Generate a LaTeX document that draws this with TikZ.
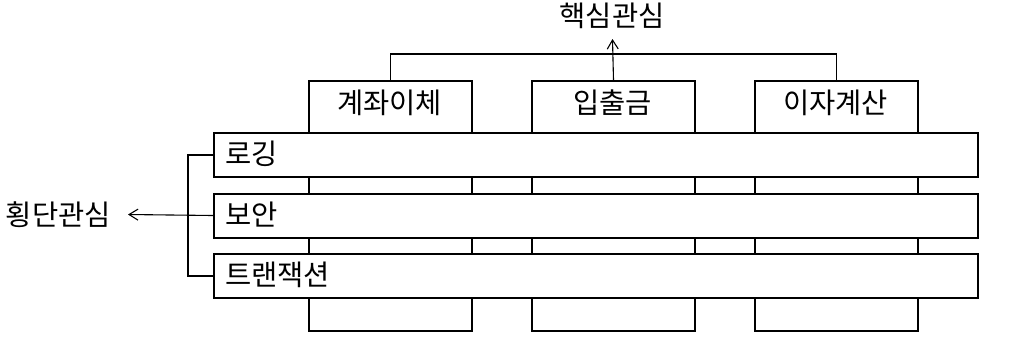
\documentclass[tikz,border=0pt]{standalone}
\usepackage{fontspec}
\newfontfamily\kr{Noto Sans CJK KR}
\usetikzlibrary{arrows.meta}
\begin{document}
\begin{tikzpicture}[x=1pt,y=-1pt,
  colbox/.style={draw,line width=2pt,fill=white,minimum width=163pt,minimum height=250pt,inner sep=0pt,anchor=north west},
  barbox/.style={draw,line width=2pt,fill=white,minimum width=764pt,minimum height=44pt,inner sep=0pt,anchor=north west},
  lbl/.style={font=\kr\fontsize{28.5}{32}\selectfont,inner sep=0pt},
  conn/.style={line width=1.1pt},
  tip/.style={-{Straight Barb[length=9pt,width=11pt,line width=1.1pt]}}]
\useasboundingbox (0,0) rectangle (1036,357);
% columns
\node[colbox] (c1) at (308,80) {};
\node[colbox] (c2) at (531,80) {};
\node[colbox] (c3) at (754,80) {};
% bars
\node[barbox] (b1) at (213,132) {};
\node[barbox] (b2) at (213,192.5) {};
\node[barbox] (b3) at (213,253) {};
% column labels
\node[lbl] (t1) at (389.5,103) {계좌이체};
\node[lbl] (t2) at (612.5,103) {입출금};
\node[lbl] (t3) at (835.5,103) {이자계산};
% bar labels
\node[lbl,anchor=west] (l1) at (225,154) {로깅};
\node[lbl,anchor=west] (l2) at (225,214.5) {보안};
\node[lbl,anchor=west] (l3) at (225,275) {트랜잭션};
% concern labels
\node[lbl] (core) at (612,16) {핵심관심};
\node[lbl,anchor=east] (cross) at (111,214.5) {횡단관심};
% top bracket
\coordinate (tb) at (612.5,54);
\coordinate (ta) at (612.5,39);
\draw[conn] (c1.north) |- (tb) -| (c3.north);
\draw[conn,tip] (c2.north) -- (ta);
% left bracket
\coordinate (lb) at (188,214.5);
\coordinate (la) at (128,214.5);
\draw[conn] (b1.west) -| (lb) |- (b3.west);
\draw[conn,tip] (b2.west) -- (la);
\end{tikzpicture}
\end{document}
